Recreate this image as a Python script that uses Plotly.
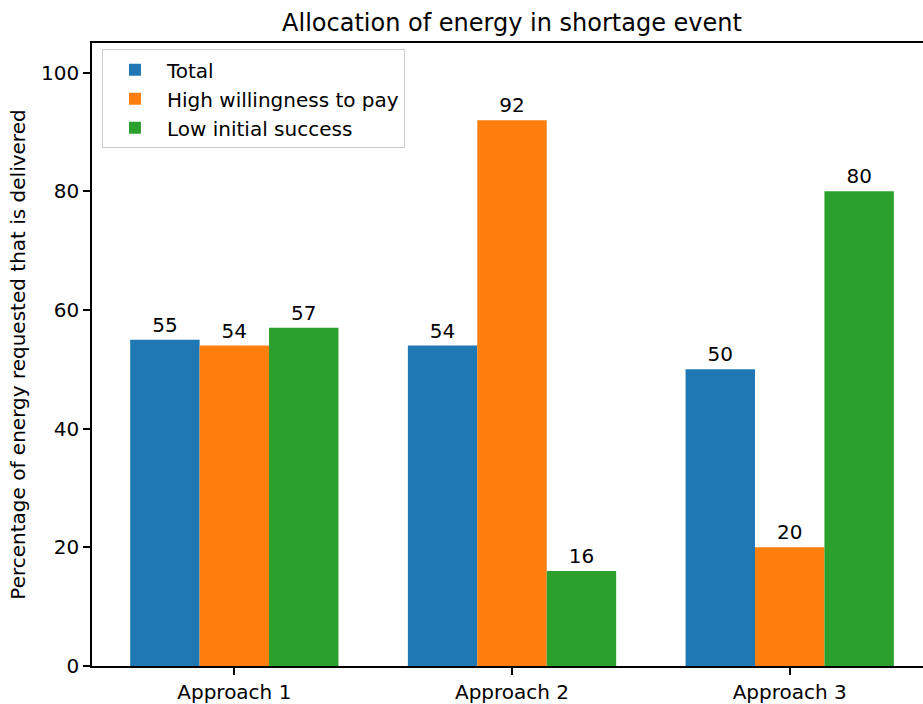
import plotly.graph_objects as go

categories = ["Approach 1", "Approach 2", "Approach 3"]
series_names = ["Total", "High willingness to pay", "Low initial success"]
total = [55, 54, 50]
high_wtp = [54, 92, 20]
low_success = [57, 16, 80]
colors = ["#1f77b4", "#ff7f0e", "#2ca02c"]
y_ticks = [0, 20, 40, 60, 80, 100]

FONT = "DejaVu Sans"
FS = 20

fig = go.Figure()
for name, vals, col in zip(series_names, [total, high_wtp, low_success], colors):
    fig.add_trace(go.Bar(
        x=categories, y=vals, name=name, marker=dict(color=col, line=dict(width=0)),
        text=[str(v) for v in vals], textposition="outside", cliponaxis=False,
        constraintext="none",
        textfont=dict(family=FONT, size=FS, color="black"),
    ))

fig.update_layout(
    width=923, height=704,
    margin=dict(l=92, r=0, t=43, b=38, autoexpand=False),
    paper_bgcolor="white", plot_bgcolor="white",
    barmode="group", bargap=0.25, bargroupgap=0,
    font=dict(family=FONT, size=FS, color="black"),
    title=dict(text="Allocation of energy in shortage event", x=512/923, xanchor="center",
               y=1 - 23/704, yanchor="middle", yref="container", automargin=False,
               font=dict(family=FONT, size=24, color="black")),
    showlegend=True,
    legend=dict(x=0.012, y=0.99, xanchor="left", yanchor="top",
                bgcolor="rgba(255,255,255,0.8)", bordercolor="#cccccc", borderwidth=1,
                itemwidth=54,
                font=dict(family=FONT, size=FS, color="black")),
)
fig.update_xaxes(
    type="category", range=[-0.5125, 2.48], automargin=False,
    showline=True, linecolor="black", linewidth=1.5, mirror=True,
    ticks="outside", ticklen=7, tickwidth=1.5, tickcolor="black",
    showgrid=False, zeroline=False,
    tickfont=dict(family=FONT, size=FS, color="black"),
)
fig.update_yaxes(
    range=[0, 105], tickvals=y_ticks, automargin=False,
    showline=True, linecolor="black", linewidth=1.5, mirror=False,
    ticks="outside", ticklen=7, tickwidth=1.5, tickcolor="black",
    showgrid=False, zeroline=False,
    tickfont=dict(family=FONT, size=FS, color="black"),
    title=dict(text="Percentage of energy requested that is delivered", standoff=10,
               font=dict(family=FONT, size=FS, color="black")),
)

fig.write_html("out.html", config={"displayModeBar": False},
               post_script="document.body.style.margin='0';")
